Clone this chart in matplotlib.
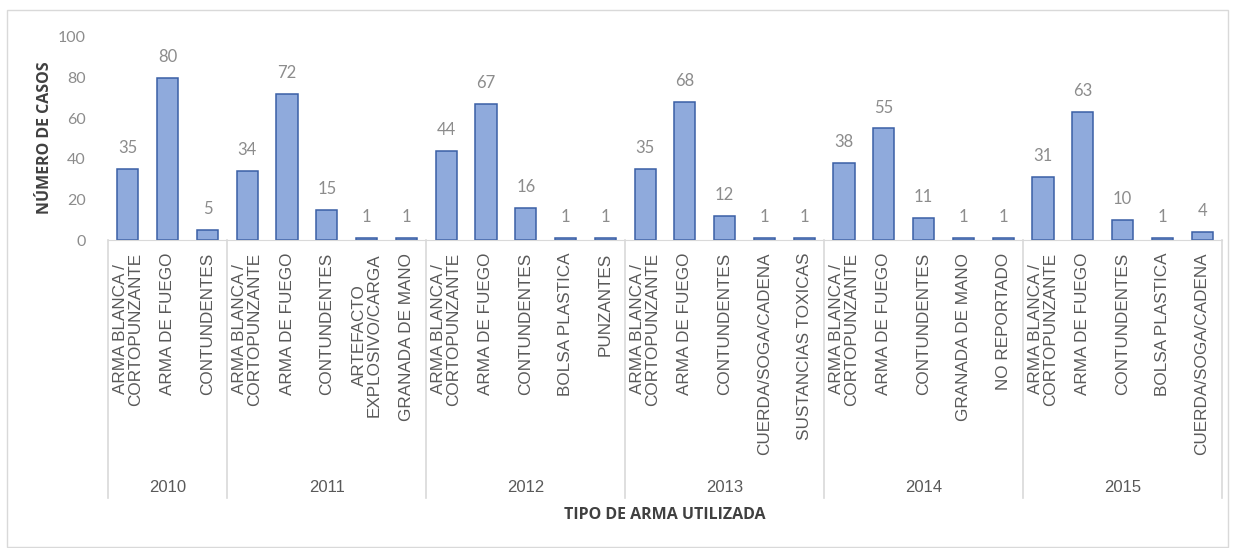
import matplotlib.pyplot as plt
from matplotlib.patches import Rectangle
import matplotlib.transforms as mtransforms

years = ["2010", "2011", "2012", "2013", "2014", "2015"]
weapons = [
    ["ARMA BLANCA /\nCORTOPUNZANTE", "ARMA DE FUEGO", "CONTUNDENTES"],
    ["ARMA BLANCA /\nCORTOPUNZANTE", "ARMA DE FUEGO", "CONTUNDENTES",
     "ARTEFACTO\nEXPLOSIVO/CARGA", "GRANADA DE MANO"],
    ["ARMA BLANCA /\nCORTOPUNZANTE", "ARMA DE FUEGO", "CONTUNDENTES",
     "BOLSA PLASTICA", "PUNZANTES"],
    ["ARMA BLANCA /\nCORTOPUNZANTE", "ARMA DE FUEGO", "CONTUNDENTES",
     "CUERDA/SOGA/CADENA", "SUSTANCIAS TOXICAS"],
    ["ARMA BLANCA /\nCORTOPUNZANTE", "ARMA DE FUEGO", "CONTUNDENTES",
     "GRANADA DE MANO", "NO REPORTADO"],
    ["ARMA BLANCA /\nCORTOPUNZANTE", "ARMA DE FUEGO", "CONTUNDENTES",
     "BOLSA PLASTICA", "CUERDA/SOGA/CADENA"],
]
cases = [
    [35, 80, 5],
    [34, 72, 15, 1, 1],
    [44, 67, 16, 1, 1],
    [35, 68, 12, 1, 1],
    [38, 55, 11, 1, 1],
    [31, 63, 10, 1, 4],
]

labels = [w for grp in weapons for w in grp]
values = [v for grp in cases for v in grp]
x = list(range(len(values)))

fig = plt.figure(figsize=(12.37, 5.48), dpi=100)
ax = fig.add_axes([108 / 1237, 1 - 240 / 548, (1222 - 108) / 1237, 203 / 548])

ax.bar(x, values, width=0.53, color="#8faadc", edgecolor="#3a5fa6", linewidth=1.1)
for xi, v in zip(x, values):
    ax.annotate(str(v), (xi, v), xytext=(0, 15), textcoords="offset points",
                ha="center", va="center", fontsize=12, color="#8c8c8c", family="Lato")

ax.set_xlim(-0.5, len(values) - 0.5)
ax.set_ylim(0, 100)
ax.set_yticks(range(0, 101, 20))
ax.tick_params(axis="y", length=0, labelsize=11.5, labelcolor="#8c8c8c", pad=16)
for t in ax.get_yticklabels():
    t.set_family("Lato")
ax.set_xticks([])
for s in ["top", "right", "left"]:
    ax.spines[s].set_visible(False)
ax.spines["bottom"].set_color("#d9d9d9")

trans = mtransforms.blended_transform_factory(ax.transData, ax.transAxes)
# category labels
for xi, lab in zip(x, labels):
    ax.text(xi, -0.064, lab, rotation=90, ha="center", va="top", transform=trans,
            fontsize=12.3, color="#595959", family="Liberation Sans", linespacing=1.0)

# group separators and year labels
start = 0
bounds = [-0.5]
for yr, grp in zip(years, cases):
    end = start + len(grp)
    bounds.append(end - 0.5)
    ax.text((start + end - 1) / 2, -1.217, yr, ha="center", va="center", transform=trans,
            fontsize=12, color="#595959", family="Liberation Sans")
    start = end
for b in bounds:
    ax.plot([b, b], [0, -1.271], transform=trans, color="#d9d9d9", linewidth=1.2, clip_on=False)

fig.text(45 / 1237, 1 - 138 / 548, "NÚMERO DE CASOS", rotation=90, ha="center", va="center",
         fontsize=11.5, fontweight="bold", color="#404040", family="Open Sans")
fig.text(665 / 1237, 1 - 515 / 548, "TIPO DE ARMA UTILIZADA", ha="center", va="center",
         fontsize=11.5, fontweight="bold", color="#404040", family="Open Sans")

fig.patches.append(Rectangle((7 / 1237, 1 / 548), 1221 / 1237, 537 / 548, transform=fig.transFigure,
                             fill=False, edgecolor="#d9d9d9", linewidth=1))

fig.savefig("out.png", dpi=100)
